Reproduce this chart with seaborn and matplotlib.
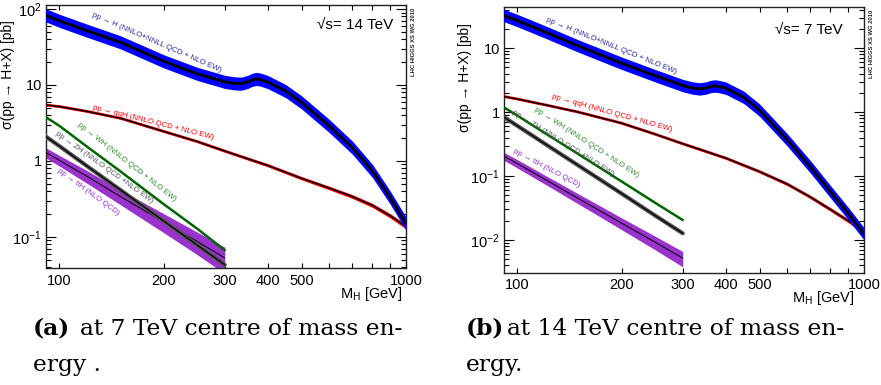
import numpy as np
import pandas as pd
import matplotlib
matplotlib.use("Agg")
import matplotlib.pyplot as plt
import seaborn as sns
from matplotlib.ticker import FixedLocator, FixedFormatter, LogLocator, FuncFormatter, NullFormatter

# ---------------- data ----------------
mh_ggh = [90, 100, 120, 150, 200, 250, 300, 320, 335, 350, 360, 370, 380, 400,
          450, 500, 600, 700, 800, 900, 1000]
ggh_14 = [85, 70, 52, 36.5, 20.5, 14.0, 11.0, 10.5, 10.4, 11.0, 11.7, 12.0, 11.8, 10.9,
          8.3, 5.9, 2.9, 1.5, 0.74, 0.33, 0.15]
ggh_7 = [33.5, 27, 18, 10.8, 5.8, 3.7, 2.6, 2.38, 2.3, 2.38, 2.5, 2.56, 2.52, 2.36,
         1.7, 1.07, 0.37, 0.14, 0.057, 0.026, 0.0125]
ggh_unc_14 = 0.22
ggh_unc_7 = 0.25

mh_qqh = [90, 100, 120, 150, 200, 250, 300, 400, 500, 600, 700, 800, 900, 1000]
qqh_14 = [5.5, 5.2, 4.5, 3.65, 2.45, 1.8, 1.35, 0.87, 0.59, 0.44, 0.34, 0.26, 0.19, 0.137]
qqh_7 = [1.78, 1.6, 1.3, 1.0, 0.67, 0.45, 0.32, 0.19, 0.117, 0.075, 0.047, 0.03, 0.02, 0.0135]
qqh_unc = [0.02, 0.02, 0.02, 0.025, 0.03, 0.03, 0.035, 0.04, 0.045, 0.05, 0.055, 0.06, 0.065, 0.07]

mh_vh = [90, 100, 120, 150, 200, 250, 300]
wh_14 = [3.95, 2.9, 1.55, 0.73, 0.27, 0.128, 0.067]
zh_14 = [2.2, 1.57, 0.86, 0.415, 0.162, 0.078, 0.043]
tth_14 = [1.35, 1.02, 0.63, 0.34, 0.158, 0.087, 0.053]
wh_7 = [1.25, 0.88, 0.47, 0.22, 0.082, 0.038, 0.0205]
zh_7 = [0.88, 0.61, 0.32, 0.146, 0.053, 0.024, 0.0127]
tth_7 = [0.215, 0.157, 0.089, 0.0446, 0.0183, 0.0092, 0.0052]
tth_unc_14 = [0.15, 0.16, 0.19, 0.22, 0.28, 0.33, 0.38]
tth_unc_7 = [0.14, 0.15, 0.16, 0.18, 0.21, 0.24, 0.27]

x_ticks = [100, 200, 300, 400, 500, 600, 700, 800, 900, 1000]
x_ticklabels = ["100", "200", "300", "400", "500", "", "", "", "", "1000"]

energies = ["14", "7"]
captions = [("(a)", "at 7 TeV centre of mass en-", "ergy ."),
            ("(b)", "at 14 TeV centre of mass en-", "ergy.")]

labels = {
    "ggh": "pp \u2192 H (NNLO+NNLL QCD + NLO EW)",
    "qqh": "pp \u2192 qqH (NNLO QCD + NLO EW)",
    "wh": "pp \u2192 WH (NNLO QCD + NLO EW)",
    "zh": "pp \u2192 ZH (NNLO QCD +NLO EW)",
    "tth": "pp \u2192 ttH (NLO QCD)",
}

# ---------------- style ----------------
sns.set_theme(style="ticks")
plt.rcParams["font.family"] = ["Liberation Sans", "DejaVu Sans"]
plt.rcParams["mathtext.default"] = "regular"
plt.rcParams["axes.linewidth"] = 1.0
plt.rcParams["text.color"] = "black"
plt.rcParams["axes.labelcolor"] = "black"
plt.rcParams["xtick.color"] = "black"
plt.rcParams["ytick.color"] = "black"
plt.rcParams["axes.edgecolor"] = "black"

C_BLUE = "#0000ff"
C_RED = "#ff0000"
C_GREEN = "#006400"
C_GRAY = "#555555"
C_PURPLE = "#9933cc"

fig = plt.figure(figsize=(8.81, 3.85), dpi=100)
W, H = 881, 385


def px_axes(l, t, r, b):
    return fig.add_axes([l / W, (H - b) / H, (r - l) / W, (b - t) / H])


axL = px_axes(46, 5, 406, 268)
axR = px_axes(504, 7, 864, 272.5)

panels = [
    dict(ax=axL, ggh=ggh_14, gunc=ggh_unc_14, qqh=qqh_14, wh=wh_14, zh=zh_14, tth=tth_14,
         tunc=tth_unc_14, ylim=(0.039, 113), e="14",
         lab=dict(ggh=(191, 35.7, -23.5), qqh=(186, 3.16, -14), wh=(156, 0.97, -38),
                  zh=(135, 0.83, -35.5), tth=(121, 0.39, -36)),
         ylab=(-0.086, 0.943), xlab=(0.989, -0.064), sq=(0.964, 0.924)),
    dict(ax=axR, ggh=ggh_7, gunc=ggh_unc_7, qqh=qqh_7, wh=wh_7, zh=zh_7, tth=tth_7,
         tunc=tth_unc_7, ylim=(0.0031, 44), e="7",
         lab=dict(ggh=(186, 10.7, -22), qqh=(187, 0.965, -15.5), wh=(158, 0.328, -33),
                  zh=(135, 0.328, -32), tth=(121, 0.133, -28)),
         ylab=(-0.089, 0.94), xlab=(0.975, -0.062), sq=(0.942, 0.913)),
]

label_colors = dict(ggh="#2a2a9a", qqh=C_RED, wh="#2e8b2e", zh="#555555", tth=C_PURPLE)


def yfmt(v, pos):
    e = int(round(np.log10(v)))
    if e == 0:
        return "1"
    if e == 1:
        return "10"
    return r"$\mathregular{10^{%d}}$" % e


for p in panels:
    ax = p["ax"]
    g = np.array(p["ggh"])
    q = np.array(p["qqh"])
    t = np.array(p["tth"])
    tu = np.array(p["tunc"])

    # ttH band
    ax.fill_between(mh_vh, t * (1 - tu), t * (1 + tu), color=C_PURPLE, lw=0, zorder=2)
    sns.lineplot(x=mh_vh, y=p["tth"], ax=ax, color="black", lw=0.7, zorder=3)
    # ZH
    sns.lineplot(x=mh_vh, y=p["zh"], ax=ax, color=C_GRAY, lw=3.0, zorder=4)
    sns.lineplot(x=mh_vh, y=p["zh"], ax=ax, color="black", lw=0.9, zorder=5)
    # WH
    sns.lineplot(x=mh_vh, y=p["wh"], ax=ax, color=C_GREEN, lw=1.8, zorder=6)
    # qqH
    qu = np.array(qqh_unc)
    ax.fill_between(mh_qqh, q * (1 - qu), q * (1 + qu), color=C_RED, lw=0, zorder=7)
    sns.lineplot(x=mh_qqh, y=p["qqh"], ax=ax, color=C_RED, lw=2.0, zorder=7)
    sns.lineplot(x=mh_qqh, y=p["qqh"], ax=ax, color="black", lw=1.1, zorder=8)
    # ggH
    ax.fill_between(mh_ggh, g / (1 + p["gunc"]), g * (1 + p["gunc"]), color=C_BLUE, lw=0, zorder=9)
    sns.lineplot(x=mh_ggh, y=p["ggh"], ax=ax, color="black", lw=2.0, zorder=10)

    ax.set_xscale("log")
    ax.set_yscale("log")
    ax.set_xlim(91.5, 1000)
    ax.set_ylim(*p["ylim"])

    ax.xaxis.set_major_locator(FixedLocator(x_ticks))
    ax.xaxis.set_major_formatter(FixedFormatter(x_ticklabels))
    ax.xaxis.set_minor_locator(FixedLocator([]))
    ax.xaxis.set_minor_formatter(NullFormatter())
    ax.yaxis.set_major_locator(LogLocator(base=10, numticks=20))
    ax.yaxis.set_minor_locator(LogLocator(base=10, subs=np.arange(2, 10), numticks=20))
    ax.yaxis.set_major_formatter(FuncFormatter(yfmt))
    ax.yaxis.set_minor_formatter(NullFormatter())

    ax.tick_params(axis="x", which="major", direction="in", length=3.8, width=0.8,
                   top=True, bottom=True, labelsize=10.5, pad=4)
    ax.tick_params(axis="y", which="major", direction="in", length=7, width=0.8,
                   left=True, right=True, labelsize=10.5, pad=3)
    ax.tick_params(axis="y", which="minor", direction="in", length=3.5, width=0.8,
                   left=True, right=True)
    for s in ax.spines.values():
        s.set_visible(True)
        s.set_color("#222222")

    ax.set_ylabel("\u03c3(pp \u2192 H+X) [pb]", fontsize=10, loc="top")
    ax.yaxis.set_label_coords(*p["ylab"])
    ax.set_xlabel(r"M$_{\mathregular{H}}$ [GeV]", fontsize=10.5, loc="right")
    ax.xaxis.set_label_coords(*p["xlab"])

    ax.text(p["sq"][0], p["sq"][1], "\u221as= %s TeV" % p["e"], transform=ax.transAxes,
            ha="right", va="center", fontsize=11)
    ax.text(1.02, 0.99, "LHC HIGGS XS WG 2010", transform=ax.transAxes, rotation=90,
            ha="center", va="top", fontsize=4.2, fontweight="bold", color="#222222")

    for k, (mx, my, rot) in p["lab"].items():
        ax.text(mx, my, labels[k], rotation=rot, rotation_mode="anchor", ha="center",
                va="center", fontsize=5.7, color=label_colors[k], zorder=12)

# captions
cap_font = ["DejaVu Serif"]
for i, (tag, line1, line2) in enumerate(captions):
    x0 = 33 if i == 0 else 466
    x1 = 80 if i == 0 else 507
    fig.text(x0 / W, 1 - 335 / H, tag, fontsize=16.8, fontweight="bold", family=cap_font,
             va="baseline", ha="left", color="black")
    fig.text(x1 / W, 1 - 335 / H, line1, fontsize=16.8, family=cap_font,
             va="baseline", ha="left", color="black")
    fig.text(x0 / W, 1 - 371 / H, line2, fontsize=16.8, family=cap_font,
             va="baseline", ha="left", color="black")

fig.savefig("out.png", dpi=100)
